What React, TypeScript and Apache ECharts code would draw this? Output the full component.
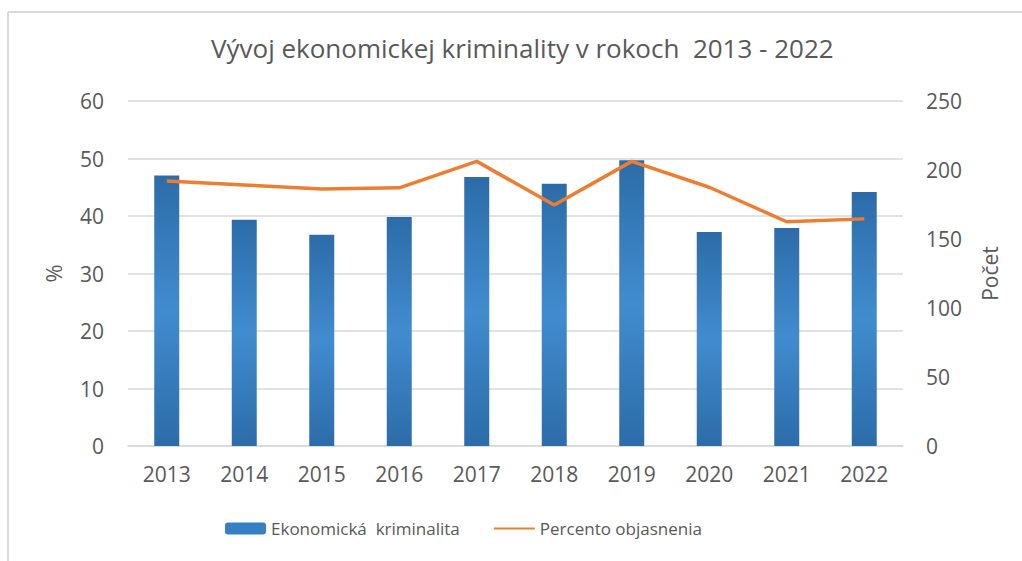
import React, { useEffect, useRef } from "react";
import * as echarts from "echarts";

const years = ["2013", "2014", "2015", "2016", "2017", "2018", "2019", "2020", "2021", "2022"];
const crimeCount = [196, 164, 153, 166, 195, 190, 207, 155, 158, 184];
const clearancePct = [46.1, 45.4, 44.7, 44.9, 49.5, 41.9, 49.5, 45.0, 39.0, 39.5];

const FONT = "'Open Sans', sans-serif";
const TXT = "#595959";

export default function App() {
  const ref = useRef<HTMLDivElement>(null);
  useEffect(() => {
    const chart = echarts.init(ref.current!, null, { renderer: "svg" });
    const barColor = new echarts.graphic.LinearGradient(0, 0, 0, 1, [
      { offset: 0, color: "#2C6CA8" },
      { offset: 0.5, color: "#418CCF" },
      { offset: 1, color: "#2C6CA8" },
    ]);
    chart.setOption({
      animation: false,
      backgroundColor: "#ffffff",
      textStyle: { fontFamily: FONT },
      title: {
        text: "Vývoj ekonomickej kriminality v rokoch  2013 - 2022",
        left: 206,
        top: 30,
        textStyle: { fontFamily: FONT, fontSize: 26, fontWeight: "normal", color: TXT },
      },
      graphic: [
        { type: "line", shape: { x1: 8, y1: 12, x2: 1022, y2: 12 }, style: { stroke: "#d9d9d9", lineWidth: 2 } },
        { type: "line", shape: { x1: 8, y1: 12, x2: 8, y2: 561 }, style: { stroke: "#d9d9d9", lineWidth: 2 } },
      ],
      legend: {
        bottom: 19,
        left: 220,
        itemGap: 34,
        itemWidth: 41,
        itemHeight: 12,
        textStyle: { fontFamily: FONT, fontSize: 17, color: TXT },
        data: [
          { name: "Ekonomická  kriminalita", icon: "roundRect", itemStyle: { color: "#3580C2" } },
          { name: "Percento objasnenia", icon: "path://M0,5 L40,5 L40,7 L0,7 Z", itemStyle: { color: "#ED7D31" } },
        ],
      },
      grid: { left: 128, right: 119, top: 101, bottom: 115 },
      xAxis: {
        type: "category",
        data: years,
        axisTick: { show: false },
        axisLine: { lineStyle: { color: "#d9d9d9", width: 1.5 } },
        axisLabel: { color: TXT, fontSize: 21, fontFamily: FONT, margin: 17 },
      },
      yAxis: [
        {
          type: "value",
          min: 0,
          max: 60,
          interval: 10,
          name: "%",
          nameLocation: "middle",
          nameGap: 64,
          nameRotate: 90,
          nameTextStyle: { color: TXT, fontSize: 22, fontFamily: FONT },
          axisLabel: { color: TXT, fontSize: 21, fontFamily: FONT, margin: 24 },
          splitLine: { lineStyle: { color: "#d9d9d9", width: 1.5 } },
          axisLine: { show: false },
          axisTick: { show: false },
        },
        {
          type: "value",
          min: 0,
          max: 250,
          interval: 50,
          name: "Počet",
          nameLocation: "middle",
          nameGap: 76,
          nameRotate: 90,
          nameTextStyle: { color: TXT, fontSize: 21, fontFamily: FONT },
          axisLabel: { color: TXT, fontSize: 21, fontFamily: FONT, margin: 23 },
          splitLine: { show: false },
          axisLine: { show: false },
          axisTick: { show: false },
        },
      ],
      series: [
        {
          name: "Ekonomická  kriminalita",
          type: "bar",
          yAxisIndex: 1,
          data: crimeCount,
          barWidth: 25,
          itemStyle: { color: barColor },
        },
        {
          name: "Percento objasnenia",
          type: "line",
          yAxisIndex: 0,
          data: clearancePct,
          symbol: "none",
          lineStyle: { color: "#ED7D31", width: 3.5 },
          itemStyle: { color: "#ED7D31" },
        },
      ],
    });
    return () => chart.dispose();
  }, []);
  return (
    <div
      ref={ref}
      style={{ position: "fixed", left: 0, top: 0, width: 1022, height: 561 }}
    />
  );
}
